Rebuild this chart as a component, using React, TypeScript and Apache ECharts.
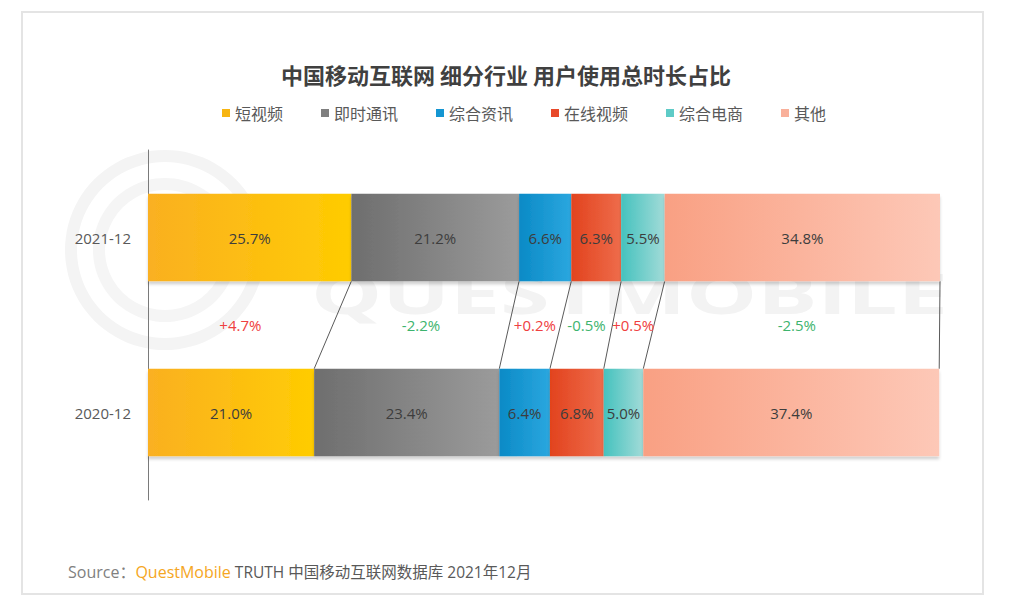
import React, { useEffect, useRef } from "react";
import * as echarts from "echarts";

const categories = ["2020-12", "2021-12"];
const seriesNames = ["短视频", "即时通讯", "综合资讯", "在线视频", "综合电商", "其他"];
const share2021 = [25.7, 21.2, 6.6, 6.3, 5.5, 34.8];
const share2020 = [21.0, 23.4, 6.4, 6.8, 5.0, 37.4];
const changes = [4.7, -2.2, 0.2, -0.5, 0.5, -2.5];
const legendColors = ["#F7B512", "#7F7F7F", "#1496D2", "#E8492A", "#5ECBC7", "#F9B09A"];
const gradientLeft = ["#FAB021", "#6E6E6E", "#0A8AC6", "#E2431E", "#45C2BE", "#F9A083"];
const gradientRight = ["#FFCC02", "#9B9B9B", "#2BA7DF", "#EE6C4B", "#A2DBD8", "#FDC8B7"];

const LATIN = "'Open Sans', 'Noto Sans CJK SC', sans-serif";
const CJK = "'Noto Sans CJK SC', 'Open Sans', sans-serif";

function cumulative(arr: number[]): number[] {
  const out = [0];
  let s = 0;
  for (const v of arr) {
    s += v;
    out.push(Math.round(s * 10) / 10);
  }
  return out;
}

export default function App() {
  const ref = useRef<HTMLDivElement>(null);
  useEffect(() => {
    document.body.style.margin = "0";
    const chart = echarts.init(ref.current!, null, { renderer: "svg" });
    const c21 = cumulative(share2021);
    const c20 = cumulative(share2020);

    const barSeries = seriesNames.map((name, i) => ({
      name,
      type: "bar",
      stack: "total",
      barWidth: "50%",
      data: [share2020[i], share2021[i]],
      itemStyle: {
        color: new echarts.graphic.LinearGradient(0, 0, 1, 0, [
          { offset: 0, color: gradientLeft[i] },
          { offset: 1, color: gradientRight[i] },
        ]),
        shadowColor: "rgba(0,0,0,0.18)",
        shadowBlur: 3,
        shadowOffsetY: 3,
      },
      label: {
        show: true,
        position: "inside",
        formatter: (p: any) => Number(p.value).toFixed(1) + "%",
        color: "#3d3d3d",
        fontSize: 15,
        fontFamily: LATIN,
      },
      emphasis: { disabled: true },
      z: 3,
    }));

    const connectorData = [];
    for (let i = 1; i < c21.length; i++) connectorData.push([c21[i], c20[i], 0]);

    const changeData = changes.map((v, i) => [c21[i], c21[i + 1], c20[i], c20[i + 1], 0, v]);

    const option: any = {
      animation: false,
      backgroundColor: "#ffffff",
      legend: {
        left: 222,
        top: 105,
        padding: 0,
        itemWidth: 8,
        itemHeight: 8,
        itemGap: 38,
        icon: "rect",
        selectedMode: false,
        textStyle: { fontSize: 16, color: "#595959", fontFamily: CJK },
        data: seriesNames.map((n, i) => ({ name: n, itemStyle: { color: legendColors[i] } })),
      },
      grid: { left: 148, right: 71, top: 150, height: 350 },
      xAxis: {
        type: "value",
        min: 0,
        max: 100.1,
        show: false,
      },
      yAxis: {
        type: "category",
        data: categories,
        axisLine: { show: true, lineStyle: { color: "#7a7a7a", width: 1 } },
        axisTick: { show: false },
        axisLabel: { color: "#595959", fontSize: 15, margin: 17, fontFamily: LATIN },
      },
      graphic: [
        {
          type: "rect",
          z: -10,
          shape: { x: 22, y: 12, width: 961, height: 582 },
          style: { fill: "#ffffff", stroke: "#e4e4e4", lineWidth: 2 },
          silent: true,
        },
        {
          type: "ring",
          z: -5,
          shape: { cx: 165, cy: 250, r: 100, r0: 88 },
          style: { fill: "#f4f4f4" },
          silent: true,
        },
        {
          type: "ring",
          z: -5,
          shape: { cx: 165, cy: 250, r: 72, r0: 60 },
          style: { fill: "#f5f5f5" },
          silent: true,
        },
        {
          type: "text",
          z: -5,
          x: 311,
          y: 320,
          scaleX: 1.6,
          style: {
            text: "QUESTMOBILE",
            fontSize: 56,
            fontWeight: "bold",
            fontFamily: LATIN,
            fill: "#f3f3f3",
            textAlign: "left",
            textVerticalAlign: "bottom",
          },
          silent: true,
        },
        {
          type: "text",
          x: 506,
          y: 74,
          style: {
            text: "中国移动互联网 细分行业 用户使用总时长占比",
            fontSize: 22,
            fontWeight: "bold",
            fontFamily: CJK,
            fill: "#404040",
            textAlign: "center",
            textVerticalAlign: "middle",
          },
        },
        {
          type: "text",
          x: 68,
          y: 572,
          style: {
            text: "{a|Source：}{b|QuestMobile}{c| TRUTH 中国移动互联网数据库 2021年12月}",
            textVerticalAlign: "middle",
            rich: {
              a: { fontSize: 16, fill: "#808080", fontFamily: LATIN },
              b: { fontSize: 16, fill: "#F5A623", fontFamily: LATIN },
              c: { fontSize: 15.5, fill: "#595959", fontFamily: LATIN },
            },
          },
        },
      ],
      series: [
        ...barSeries,
        {
          type: "custom",
          name: "connectors",
          coordinateSystem: "cartesian2d",
          encode: { x: [0, 1], y: 2 },
          data: connectorData,
          silent: true,
          z: 2,
          renderItem: (params: any, api: any) => {
            const a = api.value(0);
            const b = api.value(1);
            const top = api.coord([a, 1]);
            const bot = api.coord([b, 0]);
            const half = api.size([0, 1])[1] * 0.25;
            return {
              type: "line",
              shape: { x1: top[0], y1: top[1] + half, x2: bot[0], y2: bot[1] - half },
              style: { stroke: "#5a5a5a", lineWidth: 1 },
            };
          },
        },
        {
          type: "custom",
          name: "changes",
          coordinateSystem: "cartesian2d",
          encode: { x: [0, 1, 2, 3], y: 4 },
          data: changeData,
          silent: true,
          z: 4,
          renderItem: (params: any, api: any) => {
            const p1 = api.coord([api.value(0), 1]);
            const p2 = api.coord([api.value(1), 1]);
            const p3 = api.coord([api.value(2), 0]);
            const p4 = api.coord([api.value(3), 0]);
            const v = api.value(5);
            const x = (p1[0] + p2[0] + p3[0] + p4[0]) / 4;
            const y = (p1[1] + p3[1]) / 2;
            return {
              type: "text",
              x,
              y,
              style: {
                text: (v > 0 ? "+" : "") + Number(v).toFixed(1) + "%",
                fill: v > 0 ? "#EF4040" : "#3DB46E",
                fontSize: 15,
                fontFamily: LATIN,
                textAlign: "center",
                textVerticalAlign: "middle",
              },
            };
          },
        },
      ],
    };
    chart.setOption(option);
    return () => chart.dispose();
  }, []);
  return <div ref={ref} style={{ width: 1011, height: 610 }} />;
}
